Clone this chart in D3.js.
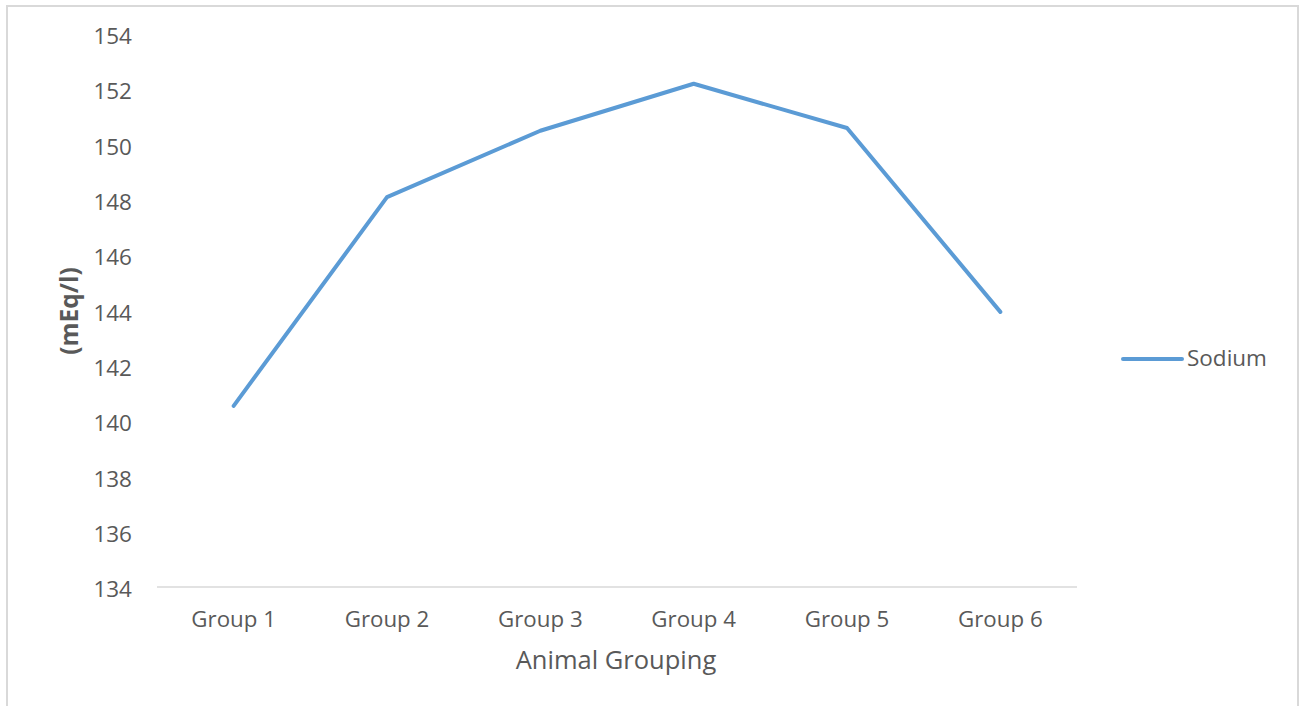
<!DOCTYPE html>
<html>
<head>
<meta charset="utf-8">
<script src="https://cdn.jsdelivr.net/npm/d3@7"></script>
<style>
  html, body { margin: 0; padding: 0; background: #fff; }
  svg { display: block; }
</style>
</head>
<body>
<svg id="chart" width="1301" height="706"></svg>
<script>
const categories = ["Group 1", "Group 2", "Group 3", "Group 4", "Group 5", "Group 6"];
const sodium = [140.55, 148.1, 150.5, 152.2, 150.6, 143.95];
const yTicks = [134, 136, 138, 140, 142, 144, 146, 148, 150, 152, 154];
const seriesName = "Sodium";
const xTitle = "Animal Grouping";
const yTitle = "(mEq/l)";

(function () {
const svg = d3.select("#chart");
const font = "'Open Sans', sans-serif";
const textColor = "#595959";
const lineColor = "#5b9bd5";

// outer border
svg.append("rect").attr("x", 7).attr("y", 6).attr("width", 1291).attr("height", 720)
  .attr("fill", "none").attr("stroke", "#d9d9d9").attr("stroke-width", 2);

const pLeft = 157, pRight = 1077, pTop = 34, pBottom = 587;

const x = d3.scaleBand().domain(categories).range([pLeft, pRight]).paddingInner(0).paddingOuter(0);
const y = d3.scaleLinear().domain([134, 154]).range([pBottom, pTop]);

// x axis baseline
svg.append("line").attr("x1", pLeft).attr("x2", pRight).attr("y1", y(134)).attr("y2", y(134))
  .attr("stroke", "#d9d9d9").attr("stroke-width", 1.3);

// y tick labels
const yAxis = svg.append("g").attr("transform", `translate(${pLeft},0)`)
  .call(d3.axisLeft(y).tickValues(yTicks).tickSize(0).tickPadding(25).tickFormat(d3.format("d")));
yAxis.select(".domain").remove();
yAxis.selectAll("text").attr("font-family", font).attr("font-size", 22.5).attr("fill", textColor)
  .attr("dy", "0.43em");

// x tick labels
const xAxis = svg.append("g").attr("transform", `translate(0,${pBottom})`)
  .call(d3.axisBottom(x).tickSize(0).tickPadding(24));
xAxis.select(".domain").remove();
xAxis.selectAll("text").attr("font-family", font).attr("font-size", 22.3).attr("fill", textColor);

// line
const line = d3.line().x((d, i) => x(categories[i]) + x.bandwidth() / 2).y(d => y(d));
svg.append("path").datum(sodium).attr("d", line).attr("fill", "none")
  .attr("stroke", lineColor).attr("stroke-width", 4).attr("stroke-linejoin", "round").attr("stroke-linecap", "round");

// axis titles
svg.append("text").attr("x", 616).attr("y", 669).attr("text-anchor", "middle")
  .attr("font-family", font).attr("font-size", 25.5).attr("fill", textColor).text(xTitle);

svg.append("text").attr("transform", "translate(78,311) rotate(-90)").attr("text-anchor", "middle")
  .attr("font-family", font).attr("font-size", 24.5).attr("font-weight", "bold").attr("fill", textColor).text(yTitle);

// legend
svg.append("line").attr("x1", 1123).attr("x2", 1182).attr("y1", 359).attr("y2", 359)
  .attr("stroke", lineColor).attr("stroke-width", 4).attr("stroke-linecap", "round");
svg.append("text").attr("x", 1187).attr("y", 366).attr("font-family", font).attr("font-size", 22.5)
  .attr("fill", textColor).text(seriesName);
})();
</script>
</body>
</html>
